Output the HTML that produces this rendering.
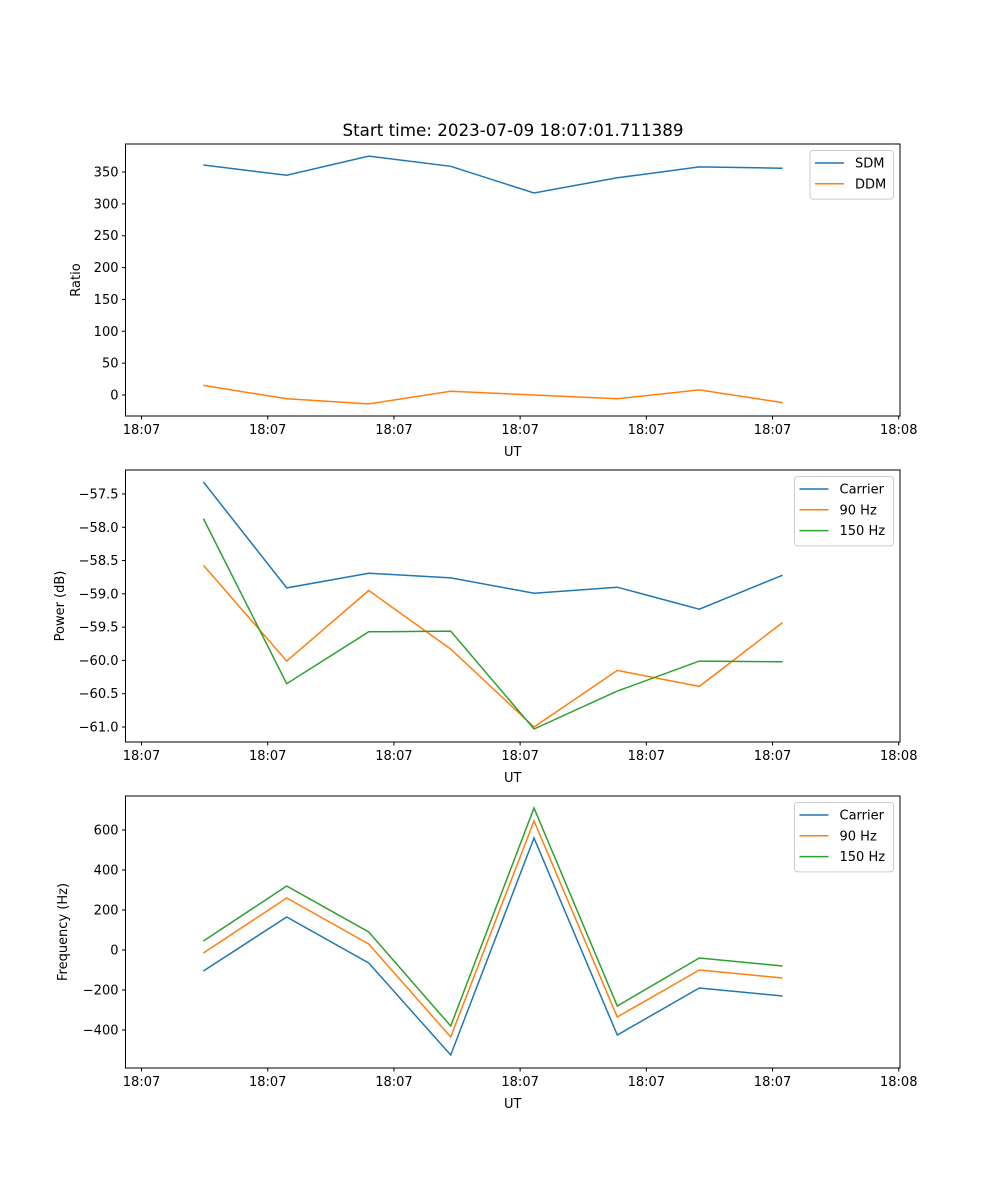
<!DOCTYPE html>
<html><head><meta charset="utf-8"><style>
body{margin:0;background:#fff}
svg{display:block;font-family:"DejaVu Sans","Liberation Sans",sans-serif}
</style></head><body>
<svg id="fig" width="1000" height="1200" xmlns="http://www.w3.org/2000/svg">
<text x="513" y="136" font-size="16.7" text-anchor="middle">Start time: 2023-07-09 18:07:01.711389</text>
</svg>
<script>
const times = [4.9, 11.5, 18.0, 24.5, 31.1, 37.7, 44.2, 50.8];
const xTicks = [0, 10, 20, 30, 40, 50, 60];
const xTickLabels = ["18:07","18:07","18:07","18:07","18:07","18:07","18:08"];
const sdm = [361, 345, 375, 359, 317, 341, 358, 356];
const ddm = [15, -6, -14, 6, 0, -6, 8, -12];
const pwrCarrier = [-57.32, -58.91, -58.69, -58.76, -58.99, -58.90, -59.23, -58.72];
const pwr90 = [-58.57, -60.01, -58.95, -59.83, -61.0, -60.15, -60.39, -59.43];
const pwr150 = [-57.87, -60.35, -59.57, -59.56, -61.03, -60.46, -60.01, -60.02];
const frqCarrier = [-105, 165, -65, -525, 560, -425, -190, -230];
const frq90 = [-15, 260, 30, -435, 645, -335, -100, -140];
const frq150 = [45, 320, 90, -380, 710, -280, -40, -80];
const ticks1 = [0,50,100,150,200,250,300,350];
const ticks2 = [-61.0,-60.5,-60.0,-59.5,-59.0,-58.5,-58.0,-57.5];
const ticks3 = [-400,-200,0,200,400,600];

const NS="http://www.w3.org/2000/svg";
const svg=document.getElementById('fig');
function mk(tag,attrs,parent){const e=document.createElementNS(NS,tag);for(const k in attrs)e.setAttribute(k,attrs[k]);(parent||svg).appendChild(e);return e;}
const L=125.5,R=900,X0=-1.27,X1=60.1;
const xs=v=>L+(v-X0)/(X1-X0)*(R-L);

function panel(name,top,bot,ymin,ymax,yticks,fmt,ylabel,series,legend){
  const g=mk('g',{});
  
  
  const ys=v=>bot-(v-ymin)/(ymax-ymin)*(bot-top);
  series.forEach(s=>{
    const pts=times.map((t,i)=>xs(t).toFixed(1)+','+ys(s.vals[i]).toFixed(1)).join(' ');
    const p=mk('polyline',{points:pts,fill:'none',stroke:s.color,'stroke-width':1.5},g);
    
    
  });
  const fr=mk('rect',{x:L,y:top,width:R-L,height:bot-top,fill:'none',stroke:'#000','stroke-width':1},g);
  
  
  xTicks.forEach((t,i)=>{
    const x=xs(t);
    mk('line',{x1:x,x2:x,y1:bot,y2:bot+3.5,stroke:'#000'},g);
    const tx=mk('text',{x:x,y:bot+18,'font-size':13,'text-anchor':'middle'},g);
    tx.textContent=xTickLabels[i];
    
    
  });
  const xl=mk('text',{x:(L+R)/2,y:bot+40,'font-size':13,'text-anchor':'middle'},g);
  xl.textContent='UT';
  
  
  yticks.forEach(v=>{
    const y=ys(v);
    mk('line',{x1:L-3.5,x2:L,y1:y,y2:y,stroke:'#000'},g);
    const tx=mk('text',{x:L-7,y:y+4.5,'font-size':13,'text-anchor':'end'},g);
    tx.textContent=fmt(v);
    
    
  });
  const yl=mk('text',{x:0,y:0,'font-size':13,'text-anchor':'middle',transform:`translate(${legend.ylx},${(top+bot)/2}) rotate(-90)`},g);
  yl.textContent=ylabel;
  
  
  const lg=mk('g',{},g);
  
  
  const h=series.length*20.8+7;
  mk('rect',{x:legend.x,y:top+6.5,width:R-6.5-legend.x,height:h,rx:3,fill:'#fff',stroke:'#ccc','fill-opacity':0.8},lg);
  series.forEach((s,i)=>{
    const y=top+19+i*20.8;
    mk('line',{x1:legend.x+5,x2:legend.x+34,y1:y,y2:y,stroke:s.color,'stroke-width':1.5},lg);
    const tx=mk('text',{x:legend.x+45,y:y+4.5,'font-size':13},lg);
    tx.textContent=s.label;
    
    
  });
}
const C1='#1f77b4',C2='#ff7f0e',C3='#2ca02c';
panel('ratio',144,416,-33,394,ticks1,v=>String(v),'Ratio',
  [{key:'sdm',label:'SDM',color:C1,vals:sdm},{key:'ddm',label:'DDM',color:C2,vals:ddm}],{x:810,ylx:80});
panel('power',470,742,-61.225,-57.14,ticks2,v=>'\u2212'+Math.abs(v).toFixed(1),'Power (dB)',
  [{key:'carrier',label:'Carrier',color:C1,vals:pwrCarrier},{key:'90hz',label:'90 Hz',color:C2,vals:pwr90},{key:'150hz',label:'150 Hz',color:C3,vals:pwr150}],{x:794.5,ylx:64});
panel('frequency',796,1068,-590,770,ticks3,v=>v<0?'\u2212'+Math.abs(v):String(v),'Frequency (Hz)',
  [{key:'carrier',label:'Carrier',color:C1,vals:frqCarrier},{key:'90hz',label:'90 Hz',color:C2,vals:frq90},{key:'150hz',label:'150 Hz',color:C3,vals:frq150}],{x:794.5,ylx:67});
</script>
</body></html>
